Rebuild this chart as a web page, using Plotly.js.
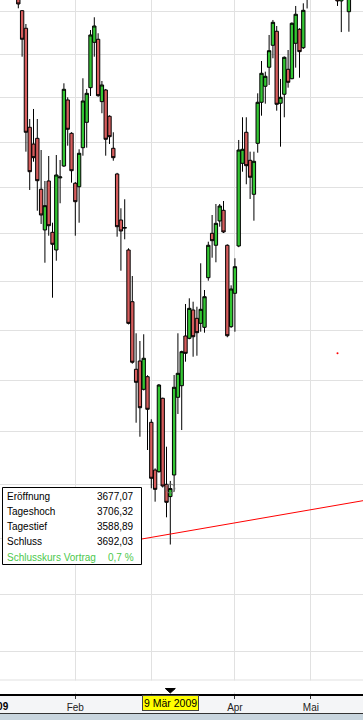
<!DOCTYPE html>
<html><head><meta charset="utf-8">
<script src="https://cdn.plot.ly/plotly-3.0.1.min.js"></script>
<style>html,body{margin:0;padding:0;background:#fff;overflow:hidden}#chart{width:363px;height:720px}</style>
</head><body><div id="chart"></div>
<script>
// ---- data ----
const dates = [
 '2009-01-12','2009-01-13','2009-01-14','2009-01-15','2009-01-16','2009-01-19','2009-01-20','2009-01-21','2009-01-22','2009-01-23',
 '2009-01-26','2009-01-27','2009-01-28','2009-01-29','2009-01-30',
 '2009-02-02','2009-02-03','2009-02-04','2009-02-05','2009-02-06','2009-02-09','2009-02-10','2009-02-11','2009-02-12','2009-02-13',
 '2009-02-16','2009-02-17','2009-02-18','2009-02-19','2009-02-20','2009-02-23','2009-02-24','2009-02-25','2009-02-26','2009-02-27',
 '2009-03-02','2009-03-03','2009-03-04','2009-03-05','2009-03-06','2009-03-09','2009-03-10','2009-03-11','2009-03-12','2009-03-13',
 '2009-03-16','2009-03-17','2009-03-18','2009-03-19','2009-03-20','2009-03-23','2009-03-24','2009-03-25','2009-03-26','2009-03-27',
 '2009-03-30','2009-03-31',
 '2009-04-01','2009-04-02','2009-04-03','2009-04-06','2009-04-07','2009-04-08','2009-04-09','2009-04-14','2009-04-15','2009-04-16',
 '2009-04-17','2009-04-20','2009-04-21','2009-04-22','2009-04-23','2009-04-24','2009-04-27','2009-04-28','2009-04-29','2009-04-30',
 '2009-05-04','2009-05-05','2009-05-06','2009-05-07','2009-05-08','2009-05-11','2009-05-12','2009-05-13','2009-05-14','2009-05-15',
 '2009-05-18','2009-05-19','2009-05-20','2009-05-21','2009-05-22'
];
const openP = [
 4790,4702.7,4661.0,4433.1,4395.7,4408.4,4296.1,4208.5,4314.2,4203.5,
 4166.1,4321.0,4347.0,4494.8,4419.6,
 4309.2,4301.7,4387.5,4444.3,4522.9,4628.0,4635.1,4491.0,4517.6,4457.9,
 4386.2,4329.5,4229.8,4212.5,4166.1,4058.4,3921.9,3938.4,3882.3,3907.2,
 3818.0,3726.9,3723.7,3864.7,3700.0,3677.07,3717.5,3866.6,3889.4,3988.5,
 3983.9,4041.4,4024.4,4014.2,4006.1,4108.0,4201.4,4176.0,4227.7,4250.6,
 4176.0,4007.4,
 4075.7,4174.5,4353.0,4421.9,4359.6,4285.2,4397.3,4489.6,4526.1,4569.9,
 4621.0,4653.9,4487.3,4507.8,4565.2,4543.5,4625.7,4658.6,4615.4,4745,
 4790,4860,4850,4940,4900,4980,4930,4870,4726,4770,
 4700.3,4820,4850,4860,4800
];
const highP = [
 4805,4704,4671.1,4451.7,4474.4,4451.7,4382.4,4314.2,4369.1,4224.0,
 4371.3,4360.3,4532.9,4500.9,4422.0,
 4312.0,4384.0,4544.5,4519.9,4656.9,4687.0,4649.2,4538.2,4520.0,4460.0,
 4421.9,4332.0,4255.0,4274.4,4169.6,4111.5,3994.0,3978.5,3992.0,3910.0,
 3823.8,3730.0,3892.7,3866.0,3771.1,3706.32,3910.5,3994.0,3959.0,4053.7,
 4065.4,4058.4,4048.1,4138.1,4082.5,4183.6,4240.5,4264.2,4264.2,4270.7,
 4178.0,4092.2,
 4148.6,4404.7,4455.6,4455.6,4378.7,4378.7,4510.0,4584.4,4559.7,4645.2,
 4680.6,4666.4,4542.9,4595.0,4610.0,4675.0,4713.9,4661.0,4720.3,4800,
 4880,4900,4950,4980,5020,5000,4980,4890,4790,4810,
 4820,4870,4900,4880,4850
];
const lowP = [
 4708.4,4594.4,4378.7,4294.6,4356.5,4249.7,4221.3,4139.3,4196.3,4066.6,
 4143.5,4265.8,4345.0,4392.0,4310.5,
 4196.3,4224.0,4369.8,4387.5,4503.9,4594.4,4502.0,4464.7,4369.8,4395.7,
 4358.7,4194.2,4122.6,4188.7,4012.0,3933.0,3817.2,3790.2,3880.0,3764.8,
 3692.5,3667.6,3722.0,3694.0,3638.7,3588.89,3686.2,3834.1,3803.1,3937.0,
 3981.9,3946.9,3948.9,3997.2,3995.2,4101.8,4149.8,4140.2,4215.5,4202.0,
 3986.0,4005.0,
 3997.2,4172.0,4334.5,4307.0,4275.1,4228.3,4376.4,4459.2,4486.4,4529.1,
 4590.7,4470.5,4389.8,4455.6,4522.9,4542.2,4569.0,4545.8,4612.4,4708,
 4770,4820,4830,4880,4890,4900,4850,4714,4652,4740,
 4652.9,4790,4810,4780,4760
];
const closeP = [
 4718.7,4635.1,4421.9,4334.5,4365.4,4314.8,4240.5,4260.6,4217.6,4178.1,
 4327.3,4323.0,4519.2,4428.6,4336.7,
 4269.2,4375.1,4492.5,4510.0,4645.2,4666.4,4504.6,4529.1,4406.2,4412.0,
 4365.4,4215.5,4206.3,4213.5,4014.2,3935.8,3896.1,3846.3,3943.8,3843.2,
 3711.3,3690.6,3890.8,3696.8,3666.41,3692.03,3886.3,3913.9,3957.0,3953.7,
 4044.8,3987.1,3995.2,4042.8,4068.7,4176.0,4185.7,4222.7,4259.9,4204.2,
 3989.1,4084.6,
 4131.0,4382.4,4384.0,4347.7,4322.3,4357.4,4489.6,4556.0,4549.0,4608.4,
 4675.1,4485.0,4500.9,4593.0,4535.2,4672.8,4694.2,4606.1,4703.6,4770,
 4860,4850,4930,4900,5000,4930,4880,4726,4760,4750,
 4800,4840,4880,4800,4820
];
const monthTickDates = ['2009-02-02','2009-03-02','2009-04-01','2009-05-04'];
const monthTickText = ['Feb','Mär','Apr','Mai'];
const yearLabel = '2009';
const yearLabelIndex = -6;          // 2 Jan 2009, six sessions before the first category
const selectedDate = '2009-03-09';
const infoLabels = ['Eröffnung','Tageshoch','Tagestief','Schluss','Schlusskurs Vortrag'];
const trendDates = ['2009-02-09','2009-05-22'];
const trendValues = [3584.0, 3669.8];
const dotDates = ['2009-05-13'];
const dotValues = [3953.7];
const monthNamesDe = ['Jan','Feb','Mär','Apr','Mai','Jun','Jul','Aug','Sep','Okt','Nov','Dez'];

// ---- layout helpers ----
const W = 363, H = 720, PB = 694;
const xRange = [-4.82, 90.71];
const yRange = [Math.log10(3327.3), Math.log10(4728.2)];
const X = px => px / W;
const Y = py => (PB - py) / PB;
const idxPaper = i => (i - xRange[0]) / (xRange[1] - xRange[0]);
const FONT = 'Liberation Sans, Arial, sans-serif';
const fmt = v => v.toFixed(2).replace('.', ',');

const sel = dates.indexOf(selectedDate);
const selVals = [fmt(openP[sel]), fmt(highP[sel]), fmt(lowP[sel]), fmt(closeP[sel]),
  ((closeP[sel] / closeP[sel - 1] - 1) * 100).toFixed(1).replace('.', ',') + ' %'];
const selParts = selectedDate.split('-');
const selLabel = parseInt(selParts[2], 10) + ' ' + monthNamesDe[parseInt(selParts[1], 10) - 1] + ' ' + selParts[0];
// the month label of the selected month is hidden behind the yellow date marker
const shownTickText = monthTickText.map((t, k) => monthTickDates[k].slice(0, 7) === selectedDate.slice(0, 7) ? '' : t);

const traces = [
  {type:'candlestick', x:dates, open:openP, high:highP, low:lowP, close:closeP,
   increasing:{line:{color:'#000', width:1}, fillcolor:'#33c633'},
   decreasing:{line:{color:'#000', width:1}, fillcolor:'#d65c5c'},
   whiskerwidth:0, hoverinfo:'skip'},
  {type:'scatter', mode:'lines', x:trendDates, y:trendValues, line:{color:'#ff0000', width:1}, hoverinfo:'skip'},
  {type:'scatter', mode:'markers', x:dotDates, y:dotValues, marker:{color:'#ff0000', size:2}, hoverinfo:'skip'},
  {type:'scatter', mode:'markers', x:[selectedDate], y:[closeP[sel]],
   marker:{symbol:'circle-open', size:9, color:'#777', line:{width:1}}, hoverinfo:'skip'}
];

const sx = idxPaper(sel) * W;
const shapes = [
  {type:'rect', xref:'paper', yref:'paper', x0:0, x1:1, y0:Y(692.5), y1:Y(680.5), fillcolor:'#fff', line:{width:0}, layer:'above'},
  {type:'line', xref:'paper', yref:'paper', x0:0, x1:1, y0:Y(680), y1:Y(680), line:{color:'#e1e1e1', width:1}},
  {type:'rect', xref:'paper', yref:'paper', x0:0, x1:1, y0:Y(713), y1:Y(695), fillcolor:'#f4f5f7', line:{width:0}, layer:'below'},
  {type:'line', xref:'paper', yref:'paper', x0:0, x1:1, y0:Y(713.5), y1:Y(713.5), line:{color:'#333', width:1}},
  {type:'rect', xref:'paper', yref:'paper', x0:0, x1:1, y0:Y(720), y1:Y(714), fillcolor:'#c8d5de', line:{width:0}, layer:'below'},
  {type:'path', xref:'paper', yref:'paper', layer:'above',
   path:'M'+X(sx-5)+','+Y(688.5)+' L'+X(sx+5)+','+Y(688.5)+' L'+X(sx)+','+Y(693)+' Z',
   fillcolor:'#000', line:{color:'#000', width:1}},
  {type:'rect', xref:'paper', yref:'paper', x0:X(2.5), x1:X(141.5), y0:Y(564.5), y1:Y(487.5),
   fillcolor:'#fff', line:{color:'#000', width:1}, layer:'above'}
];

const annotations = [];
const rowY = [496.7, 511.8, 526.8, 541.8, 557.0];
infoLabels.forEach((lab, k) => {
  const col = k === 4 ? '#4cc84c' : '#000';
  annotations.push({xref:'paper', yref:'paper', x:X(5), y:Y(rowY[k]), xanchor:'left', yanchor:'middle',
    text:lab, showarrow:false, font:{family:FONT, size:10, color:col}});
  annotations.push({xref:'paper', yref:'paper', x:X(135.5), y:Y(rowY[k]), xanchor:'right', yanchor:'middle',
    text:selVals[k], showarrow:false, font:{family:FONT, size:10, color:col}});
});
annotations.push({xref:'paper', yref:'paper', x:X(sx), y:Y(703.3), xanchor:'center', yanchor:'middle',
  text:selLabel, showarrow:false, bgcolor:'#ffff00', bordercolor:'#444', borderwidth:1, borderpad:1,
  font:{family:FONT, size:10.5, color:'#000'}});
annotations.push({xref:'paper', yref:'paper', x:idxPaper(yearLabelIndex), xshift:2, y:Y(706.5), xanchor:'center', yanchor:'middle',
  text:'<b>'+yearLabel+'</b>', showarrow:false, font:{family:FONT, size:10, color:'#000'}});

const layout = {
  width:W, height:H, margin:{l:0, r:0, t:0, b:H-PB, pad:0},
  paper_bgcolor:'#fff', plot_bgcolor:'#fff', showlegend:false,
  boxgap:0.12, boxgroupgap:0,
  xaxis:{type:'category', categoryorder:'array', categoryarray:dates, range:xRange,
    rangeslider:{visible:false}, tickmode:'array', tickvals:monthTickDates, ticktext:shownTickText,
    showgrid:true, gridcolor:'#e1e1e1', gridwidth:1, showline:true, linecolor:'#000', linewidth:2,
    ticks:'outside', ticklen:3, tickcolor:'#333', tickwidth:1,
    tickfont:{family:FONT, size:10, color:'#222'}, zeroline:false, fixedrange:true},
  yaxis:{type:'log', range:yRange, dtick:'L100', tick0:0, showticklabels:false, showgrid:true,
    gridcolor:'#e1e1e1', gridwidth:1, ticks:'', showline:false, zeroline:false, fixedrange:true},
  shapes:shapes, annotations:annotations
};
Plotly.newPlot('chart', traces, layout, {staticPlot:true, displayModeBar:false});
</script></body></html>
